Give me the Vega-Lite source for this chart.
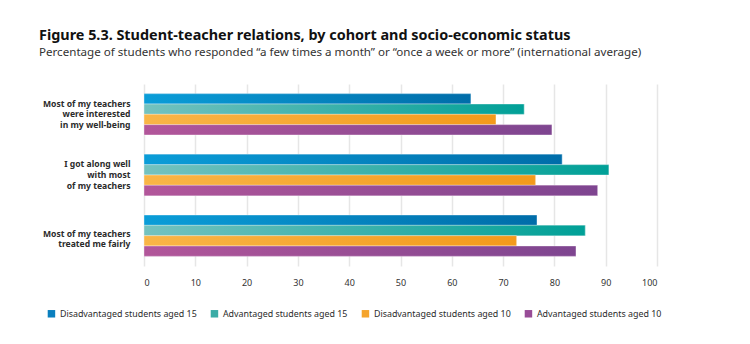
{
  "$schema": "https://vega.github.io/schema/vega-lite/v6.json",
  "autosize": {"type": "none"},
  "width": 513,
  "height": 182,
  "padding": {"left": 144, "top": 84, "right": 93, "bottom": 78},
  "background": "white",
  "title": {
    "text": "Figure 5.3. Student-teacher relations, by cohort and socio-economic status",
    "subtitle": "Percentage of students who responded “a few times a month” or “once a week or more” (international average)",
    "anchor": "start",
    "frame": "group",
    "dx": -105,
    "offset": 24,
    "font": "Noto Sans",
    "fontSize": 14.4,
    "fontWeight": "bold",
    "color": "#111111",
    "subtitleFont": "Noto Sans",
    "subtitleFontSize": 11.6,
    "subtitleColor": "#333333",
    "subtitlePadding": 4
  },
  "data": {
    "values": [
      {"item": "Most of my teachers|were interested|in my well-being", "series": "Disadvantaged students aged 15", "value": 63.7},
      {"item": "Most of my teachers|were interested|in my well-being", "series": "Advantaged students aged 15", "value": 74.1},
      {"item": "Most of my teachers|were interested|in my well-being", "series": "Disadvantaged students aged 10", "value": 68.6},
      {"item": "Most of my teachers|were interested|in my well-being", "series": "Advantaged students aged 10", "value": 79.5},
      {"item": "I got along well|with most|of my teachers", "series": "Disadvantaged students aged 15", "value": 81.5},
      {"item": "I got along well|with most|of my teachers", "series": "Advantaged students aged 15", "value": 90.6},
      {"item": "I got along well|with most|of my teachers", "series": "Disadvantaged students aged 10", "value": 76.3},
      {"item": "I got along well|with most|of my teachers", "series": "Advantaged students aged 10", "value": 88.4},
      {"item": "Most of my teachers|treated me fairly", "series": "Disadvantaged students aged 15", "value": 76.6},
      {"item": "Most of my teachers|treated me fairly", "series": "Advantaged students aged 15", "value": 86.0},
      {"item": "Most of my teachers|treated me fairly", "series": "Disadvantaged students aged 10", "value": 72.6},
      {"item": "Most of my teachers|treated me fairly", "series": "Advantaged students aged 10", "value": 84.2}
    ]
  },
  "encoding": {
    "y": {
      "field": "item",
      "type": "nominal",
      "sort": null,
      "scale": {"paddingInner": 0.32, "paddingOuter": 0.16},
      "axis": {
        "title": null,
        "labelExpr": "split(datum.label, '|')",
        "labelFont": "Noto Sans",
        "labelFontSize": 8.6,
        "labelFontWeight": "bold",
        "labelColor": "#2b2b2b",
        "labelLineHeight": 10.7,
        "labelPadding": 14,
        "labelOffset": {"condition": {"test": "indexof(datum.value, 'fairly') >= 0", "value": -2}, "value": -10.7},
        "ticks": false,
        "domain": false,
        "grid": false
      }
    },
    "yOffset": {
      "field": "series",
      "type": "nominal",
      "scale": {
        "domain": ["Disadvantaged students aged 15", "Advantaged students aged 15", "Disadvantaged students aged 10", "Advantaged students aged 10"],
        "paddingInner": 0,
        "paddingOuter": 0
      }
    },
    "x": {
      "field": "value",
      "type": "quantitative",
      "scale": {"domain": [0, 100], "nice": false},
      "axis": {
        "title": null,
        "values": [0, 10, 20, 30, 40, 50, 60, 70, 80, 90, 100],
        "labelFont": "Noto Sans",
        "labelFontSize": 9,
        "labelColor": "#333333",
        "labelPadding": 12,
        "ticks": false,
        "domain": false,
        "gridColor": "#e6e6e6",
        "gridWidth": 1.5
      }
    }
  },
  "layer": [
    {
      "mark": {"type": "bar"},
      "encoding": {
        "color": {
          "field": "series",
          "type": "nominal",
          "scale": {
            "domain": ["Disadvantaged students aged 15", "Advantaged students aged 15", "Disadvantaged students aged 10", "Advantaged students aged 10"],
            "range": ["#0a7fbe", "#3aaca6", "#f5a42c", "#984c97"]
          },
          "legend": {
            "title": null,
            "orient": "none",
            "legendX": -97,
            "legendY": 225,
            "direction": "horizontal",
            "symbolType": "square",
            "symbolSize": 56,
            "symbolStrokeWidth": 0,
            "labelFont": "Noto Sans",
            "labelFontSize": 8.9,
            "labelColor": "#2b2b2b",
            "labelOffset": 4,
            "columnPadding": 13,
            "labelLimit": 300
          }
        }
      }
    },
    {
      "transform": [{"filter": "datum.series === 'Disadvantaged students aged 15'"}],
      "mark": {"type": "bar", "fill": {"gradient": "linear", "x1": 0, "x2": 1, "y1": 0, "y2": 0, "stops": [{"offset": 0, "color": "#0a9dd8"}, {"offset": 1, "color": "#006da9"}]}, "stroke": "#ffffff", "strokeWidth": 0.6, "strokeOpacity": 0.6}
    },
    {
      "transform": [{"filter": "datum.series === 'Advantaged students aged 15'"}],
      "mark": {"type": "bar", "fill": {"gradient": "linear", "x1": 0, "x2": 1, "y1": 0, "y2": 0, "stops": [{"offset": 0, "color": "#74c2bf"}, {"offset": 1, "color": "#00a097"}]}, "stroke": "#ffffff", "strokeWidth": 0.6, "strokeOpacity": 0.6}
    },
    {
      "transform": [{"filter": "datum.series === 'Disadvantaged students aged 10'"}],
      "mark": {"type": "bar", "fill": {"gradient": "linear", "x1": 0, "x2": 1, "y1": 0, "y2": 0, "stops": [{"offset": 0, "color": "#f9b547"}, {"offset": 1, "color": "#f39a1b"}]}, "stroke": "#ffffff", "strokeWidth": 0.6, "strokeOpacity": 0.6}
    },
    {
      "transform": [{"filter": "datum.series === 'Advantaged students aged 10'"}],
      "mark": {"type": "bar", "fill": {"gradient": "linear", "x1": 0, "x2": 1, "y1": 0, "y2": 0, "stops": [{"offset": 0, "color": "#b2569a"}, {"offset": 1, "color": "#7e4590"}]}, "stroke": "#ffffff", "strokeWidth": 0.6, "strokeOpacity": 0.6}
    }
  ],
  "config": {
    "view": {"stroke": null}
  }
}
